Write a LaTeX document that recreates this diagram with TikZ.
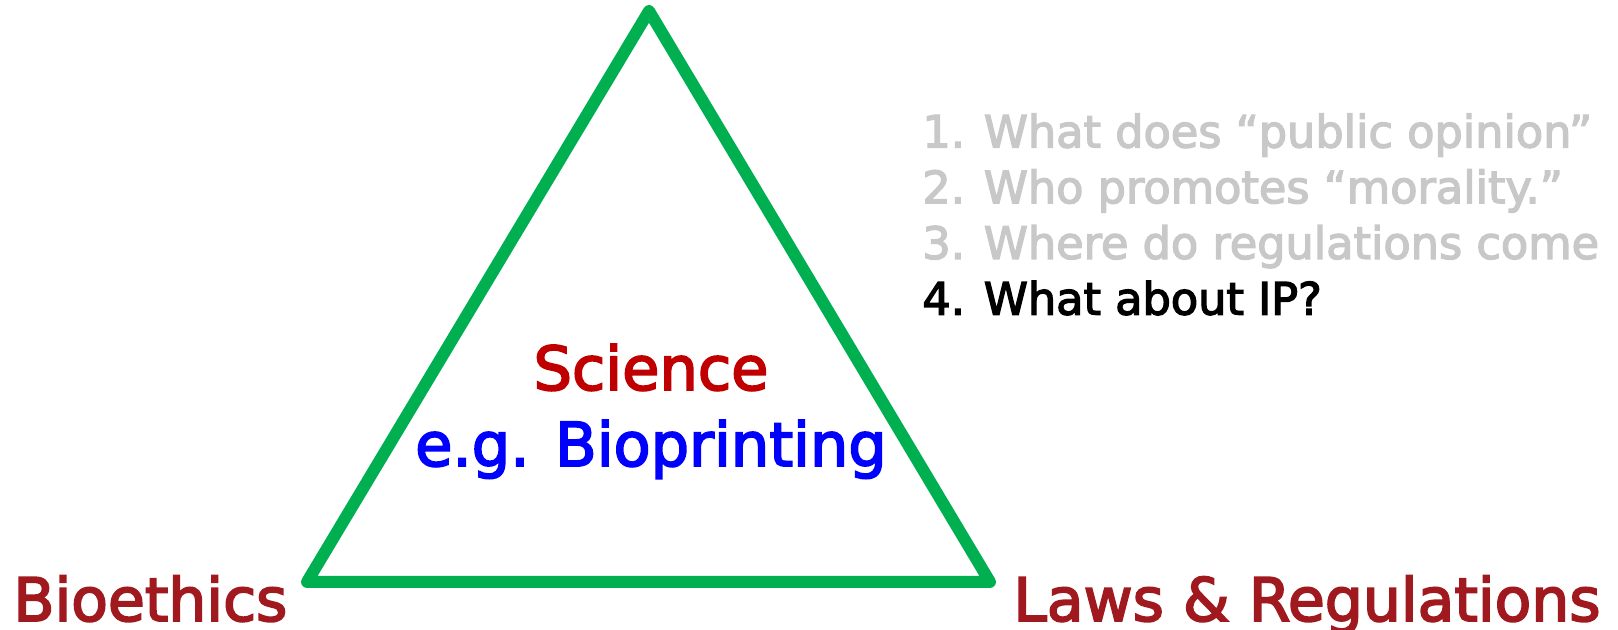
\documentclass[tikz,border=0pt]{standalone}
\usepackage{fontspec}
\setmainfont{DejaVu Sans}
\newfontfamily\slidefont[FakeBold=3]{DejaVu Sans}

\definecolor{trigreen}{HTML}{00B050}
\definecolor{cornerred}{HTML}{A0191E}
\definecolor{scired}{HTML}{C00000}
\definecolor{egblue}{HTML}{0000FF}
\definecolor{dimgray}{HTML}{C8C8C8}

\tikzset{
  corner/.style={anchor=base west, inner sep=0pt, font=\slidefont\fontsize{30}{36}\selectfont, text=cornerred},
  centre/.style={anchor=base, inner sep=0pt, font=\slidefont\fontsize{30.3}{36}\selectfont},
  question/.style={anchor=base west, inner sep=0pt, font=\slidefont\fontsize{22.3}{26}\selectfont, text=dimgray},
}

\begin{document}
\begin{tikzpicture}[x=0.5pt, y=-0.5pt]

\useasboundingbox (0,0) rectangle (1618,630);
\clip (0,0) rectangle (1618,630);

% ── Triángulo ─────────────────────────────────────────────────
\coordinate (top)   at (649, 11);
\coordinate (left)  at (307, 582);
\coordinate (right) at (990, 582);
\draw[trigreen, line width=6pt, line join=round] (top) -- (left) -- (right) -- cycle;

% ── Vértices ──────────────────────────────────────────────────
\node[corner] (bioethics) at (13, 621) {Bioethics};
\node[corner] (laws) at (1013, 621) {Laws \& Regulations};

% ── Centro ────────────────────────────────────────────────────
\node[centre, text=scired] (science) at (651, 390) {Science};
\node[centre, text=egblue] (bioprint) at (651, 466) {e.g. Bioprinting};

% ── Preguntas ─────────────────────────────────────────────────
\node[question] (q1) at (922, 147.5) {1. What does “public opinion”};
\node[question] (q2) at (922, 203.2) {2. Who promotes “morality.”};
\node[question] (q3) at (922, 258.9) {3. Where do regulations come};
\node[question, text=black] (q4) at (922, 314.6) {4. What about IP?};

\end{tikzpicture}
\end{document}
